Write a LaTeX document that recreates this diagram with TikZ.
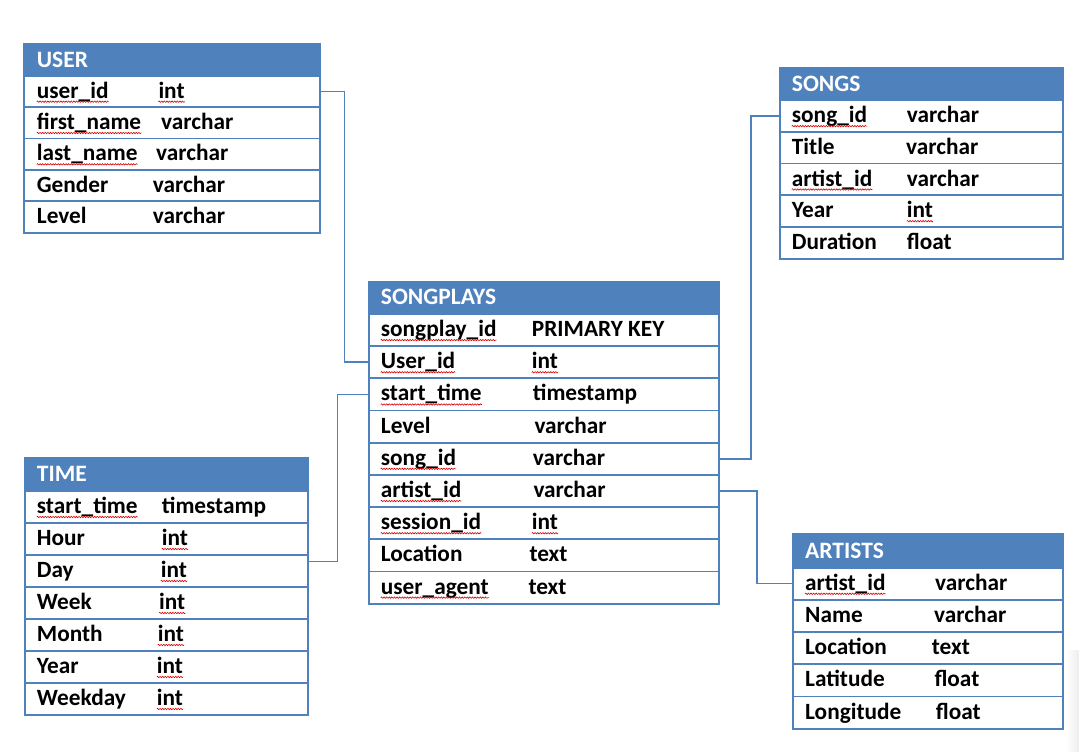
\documentclass[tikz,border=0pt]{standalone}
\usepackage{fontspec}
\setmainfont{Carlito}
\usetikzlibrary{decorations.pathmorphing}
\definecolor{ofblue}{HTML}{4F81BD}
\tikzset{
  hdrbox/.style={draw=ofblue, fill=ofblue, line width=1.8pt, inner sep=0},
  rowbox/.style={draw=ofblue, line width=1.8pt, inner sep=0},
  txt/.style={anchor=base west, inner sep=0, font=\fontsize{23.3}{28}\selectfont\bfseries},
  hdrtxt/.style={anchor=base west, inner sep=0, text=white, font=\fontsize{23.5}{28}\selectfont\bfseries},
  conn/.style={draw=ofblue, line width=1.5pt},
  sqline/.style={draw=red!85!black, line width=0.6pt, decorate, decoration={snake, amplitude=0.7pt, segment length=2.6pt}}
}
\newcommand\erdtable[8]{%
  \node[hdrbox, minimum width=#4, minimum height=#5, anchor=north west] (#1) at (#2,#3) {};
  \node[hdrtxt] (t#1) at (#7, {#3+#5/2+8}) {#8};
}
\newcommand\erdrows[7]{%
  \foreach \fa/\fx/\fb [count=\i] in {#7} {
    \node[rowbox, minimum width=#4, minimum height=#5, anchor=north west] (#1\i) at (#2, {#3+(\i-1)*#5}) {};
    \node[txt] (k#1\i) at (#6, {#3+(\i-0.5)*#5+7.5}) {\fa};
    \node[txt] (v#1\i) at (\fx, {#3+(\i-0.5)*#5+7.5}) {\fb};
  }
}
\newcommand\squig[1]{\draw[sqline] ([yshift=-3.5pt]#1.base west) -- ([yshift=-3.5pt]#1.base east);}
\begin{document}
\begin{tikzpicture}[x=1pt, y=-1pt]
\useasboundingbox (0,0) rectangle (1079,752);
\shade[left color=white, right color=black!7] (1066,650) rectangle (1079,752);
% USER
\erdrows{user}{23.3}{75}{296}{31.34}{36.7}{user\_id/158.3/int, first\_name/161/varchar, last\_name/156/varchar, Gender/152.7/varchar, Level/152.7/varchar}
\erdtable{user}{23.3}{43.3}{296}{31.7}{31.34}{36.7}{USER}
% SONGPLAYS
\erdrows{sp}{367.7}{313}{350.3}{32.19}{380.7}{songplay\_id/531.7/PRIMARY KEY, User\_id/531.7/int, start\_time/532.7/timestamp, Level/534.3/varchar, song\_id/532.7/varchar, artist\_id/533.3/varchar, session\_id/531.7/int, Location/529.3/text, user\_agent/528.3/text}
\erdtable{sp}{367.7}{280.7}{350.3}{32.3}{32.19}{380.7}{SONGPLAYS}
% SONGS
\erdrows{so}{779}{99.3}{283.3}{31.68}{791.7}{song\_id/906.7/varchar, Title/906/varchar, artist\_id/906.7/varchar, Year/906.7/int, Duration/906.7/float}
\erdtable{so}{779}{67.3}{283.3}{32}{31.68}{791.7}{SONGS}
% ARTISTS
\erdrows{ar}{792}{566.7}{270.3}{32.2}{805}{artist\_id/935/varchar, Name/934/varchar, Location/931.7/text, Latitude/934.3/float, Longitude/935.7/float}
\erdtable{ar}{792}{533.3}{270.3}{33.4}{32.2}{805}{ARTISTS}
% TIME
\erdrows{tm}{24}{490}{283.3}{32}{36.7}{start\_time/161.7/timestamp, Hour/161.7/int, Day/160.7/int, Week/159/int, Month/157.7/int, Year/156.7/int, Weekday/156.7/int}
\erdtable{tm}{24}{457.3}{283.3}{32.7}{32}{36.7}{TIME}
% spell-check squiggles
\squig{kuser1}\squig{vuser1}\squig{kuser2}\squig{kuser3}
\squig{ksp1}\squig{ksp2}\squig{vsp2}\squig{ksp3}\squig{ksp5}\squig{ksp6}\squig{ksp7}\squig{vsp7}\squig{ksp9}
\squig{kso1}\squig{kso3}\squig{vso4}
\squig{kar1}
\squig{ktm1}\squig{vtm2}\squig{vtm3}\squig{vtm4}\squig{vtm5}\squig{vtm6}\squig{vtm7}
% connectors
\draw[conn] (user1.east) -- ++(23.4,0) |- (sp2.west);
\draw[conn] (sp3.west) -- ++(-30.4,0) |- ([yshift=-5.7pt]tm2.south east);
\draw[conn] (sp5.east) -- ++(31,0) |- (so1.west);
\draw[conn] (sp6.east) -- ++(37,0) |- (ar1.west);
\end{tikzpicture}
\end{document}
